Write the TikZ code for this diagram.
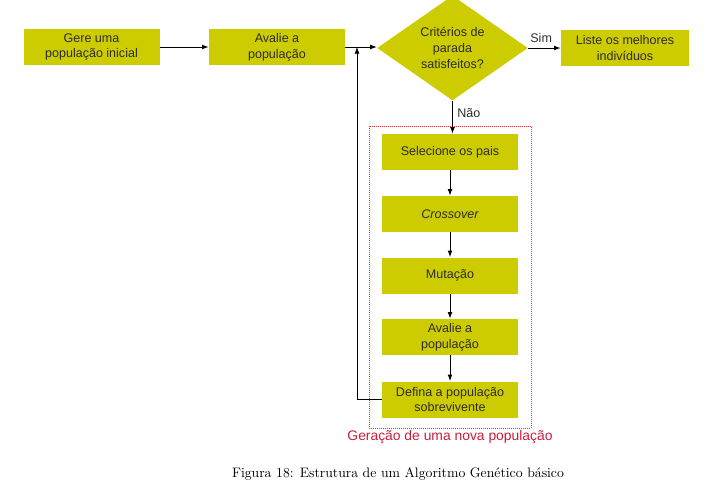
\documentclass[tikz,border=0pt]{standalone}
\usepackage{fontspec}
\newfontfamily\boxfont{Liberation Sans}
\usetikzlibrary{shapes.geometric}
\usetikzlibrary{positioning}
\usetikzlibrary{arrows.meta}
\definecolor{olive}{RGB}{204,204,0}
\definecolor{txtgray}{RGB}{45,45,45}
\definecolor{genred}{RGB}{200,30,60}
\tikzset{
    box/.style = {rectangle, fill=olive, minimum width=102pt, minimum height=27pt, inner sep=1pt, align=center, text=txtgray, font=\boxfont\fontsize{9.4}{11.8}\selectfont},
    decision/.style = {diamond, fill=olive, minimum width=113pt, minimum height=69pt, inner sep=0pt, align=center, text=txtgray, font=\boxfont\fontsize{9.4}{11.8}\selectfont},
    edgen/.style = {-{Latex[length=5pt,width=3.6pt]}, line width=0.7pt},
    lbl/.style = {text=txtgray, font=\boxfont\fontsize{9.4}{10}\selectfont},
    group/.style = {rectangle, draw=red!85, densely dotted, line width=0.5pt, minimum width=121.5pt, minimum height=226.5pt},
}
\begin{document}
\begin{tikzpicture}[x=0.75pt,y=-0.75pt]
\useasboundingbox (0,0) rectangle (715,497);
% top row
\node[box] at (91.5, 47) (gere) {Gere uma\\população inicial};
\node[box] at (277, 47) (aval) {Avalie a\\população};
\node[decision] at (452.5, 48) (crit) {Critérios de\\parada\\satisfeitos?};
\node[box, minimum width=96pt] at (625, 48) (list) {Liste os melhores\\indivíduos};
% new generation
\node[group] at (450, 277) (gen) {};
\node[box] at (450, 152) (sel) {Selecione os pais};
\node[box] at (450, 214) (cross) {\itshape Crossover};
\node[box] at (450, 275.5) (mut) {Mutação};
\node[box] at (450, 337) (aval2) {Avalie a\\população};
\node[box] at (450, 399.5) (def) {Defina a população\\sobrevivente};
\node[text=genred, font=\boxfont\fontsize{10.4}{12}\selectfont] at (450, 437) (genl) {Geração de uma nova população};
\coordinate (fb) at (357, 47);
% edges
\draw[edgen] (gere) -- (aval);
\draw[edgen] (aval.east) -- (aval.east -| crit.west);
\draw[edgen] (crit) -- node[lbl, above, pos=0.4] {Sim} (list);
\draw[edgen] (crit.south) -- node[lbl, right, pos=0.38] {Não} (sel.north -| crit.south);
\draw[edgen] (sel) -- (cross);
\draw[edgen] (cross) -- (mut);
\draw[edgen] (mut) -- (aval2);
\draw[edgen] (aval2) -- (def);
\draw[edgen, line width=0.5pt] (def.west) -| (fb);
% caption
\node[font=\fontsize{10.3}{12}\selectfont] at (398, 474) (cap) {Figura 18: Estrutura de um Algoritmo Genético básico};
\end{tikzpicture}
\end{document}
